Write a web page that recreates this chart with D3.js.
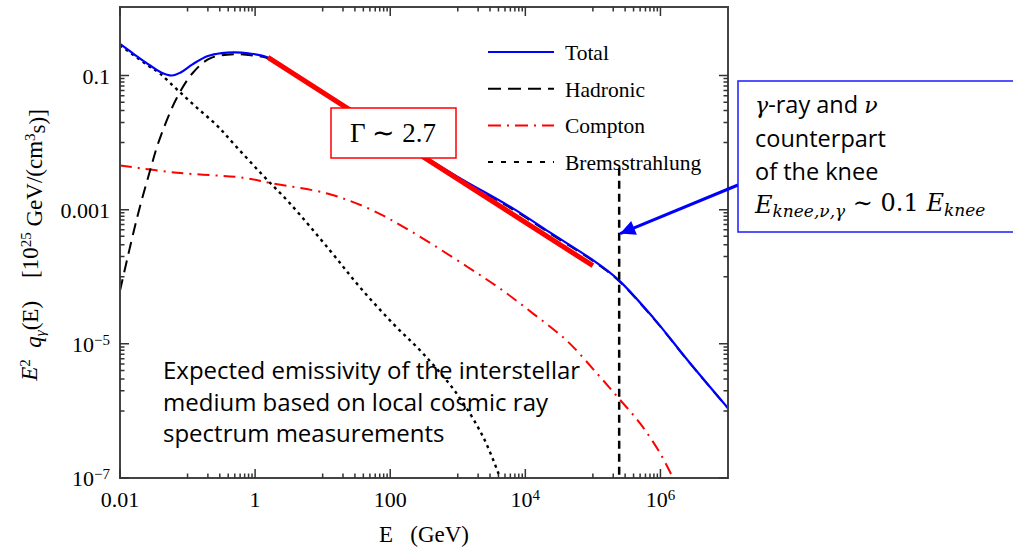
<!DOCTYPE html>
<html>
<head>
<meta charset="utf-8">
<script src="https://cdn.jsdelivr.net/npm/d3@7"></script>
</head>
<body style="margin:0">
<div id="chart"></div>
<script>
// Values: [E (GeV), E^2 q (10^25 GeV/(cm^3 s))]
const totalData = [
  [0.01, 0.295], [0.016, 0.209], [0.028, 0.141], [0.04, 0.112], [0.059, 0.100],
  [0.079, 0.111], [0.12, 0.148], [0.2, 0.195], [0.32, 0.216], [0.5, 0.221],
  [0.79, 0.214], [1.55, 0.186], [4.7, 0.0933], [26, 0.0309], [140, 0.0103],
  [984, 3.11e-3], [6640, 1.035e-3], [2.34e4, 4.54e-4], [1.09e5, 1.67e-4],
  [2.39e5, 9.0e-5], [7.87e5, 2.44e-5], [2.51e6, 5.75e-6], [1e7, 1.1e-6]
];
const hadronicData = [
  [0.01, 6.2e-5], [0.0179, 7.6e-4], [0.0278, 3.8e-3], [0.0379, 0.0107],
  [0.0698, 0.047], [0.121, 0.111], [0.215, 0.18], [0.5, 0.208], [1, 0.197],
  [1.55, 0.18], [4.7, 0.090], [26, 0.0296], [140, 0.0099], [984, 3.0e-3],
  [6640, 1.0e-3], [2.34e4, 4.4e-4], [1.09e5, 1.62e-4], [2.39e5, 8.8e-5],
  [7.87e5, 2.4e-5], [2.51e6, 5.7e-6], [1e7, 1.09e-6]
];
const comptonData = [
  [0.01, 4.57e-3], [0.07, 3.55e-3], [0.66, 3.0e-3], [1.66, 2.5e-3], [11.7, 1.74e-3],
  [50, 1.02e-3], [200, 4.8e-4], [1380, 1.41e-4], [4270, 6.6e-5], [1.32e4, 2.8e-5],
  [4.17e4, 1.1e-5], [1.17e5, 3.55e-6], [2.4e5, 1.55e-6], [5.0e5, 6.5e-7],
  [1e6, 2.3e-7], [1.55e6, 9.8e-8]
];
const bremsData = [
  [0.01, 0.282], [0.026, 0.141], [0.039, 0.107], [0.072, 0.060], [0.138, 0.033],
  [0.275, 0.0178], [0.537, 8.5e-3], [1.32, 3.2e-3], [3.3, 1.23e-3], [12.9, 2.45e-4],
  [36, 6.9e-5], [110, 2.0e-5], [309, 7.1e-6], [977, 1.78e-6], [2400, 4.0e-7],
  [4270, 9.8e-8]
];
// power-law guide (Gamma ~ 2.7)
const slopeData = [[1.55, 0.186], [1.0e5, 1.46e-4]];
// knee marker
const kneeE = 2.45e5;
const kneeTop = 4.2e-3;
const arrowTipValue = 4.4e-4;

const xTickValues = [0.01, 1, 100, 1e4, 1e6];
const xTickLabels = [["0.01", ""], ["1", ""], ["100", ""], ["10", "4"], ["10", "6"]];
const yTickValues = [0.1, 0.001, 1e-5, 1e-7];
const yTickLabels = [["0.1", ""], ["0.001", ""], ["10", "\u22125"], ["10", "\u22127"]];
const minorXDecades = [-1, 1, 3, 5];
const minorYDecades = [-2, -4, -6];

const legendLabels = ["Total", "Hadronic", "Compton", "Bremsstrahlung"];

const width = 1013;
const height = 560;
const plot = { left: 120, right: 728, top: 7, bottom: 478 };

const svg = d3.select("#chart")
    .append("svg")
    .attr("width", width)
    .attr("height", height);

const x = d3.scaleLog().domain([0.01, 1e7]).range([plot.left, plot.right]);
const y = d3.scaleLog().domain([1e-7, 1.05]).range([plot.bottom, plot.top]);

const serif = "'Liberation Serif', 'Times New Roman', serif";
const sans = "'Open Sans', Lato, sans-serif";
const mathSerif = "'DejaVu Serif', serif";

// minor tick positions j * 10^k
function minors(decades) {
    const out = [];
    decades.forEach(k => { for (let j = 1; j <= 9; j++) out.push(j * Math.pow(10, k)); });
    return out;
}

const defs = svg.append("defs");
defs.append("clipPath").attr("id", "plotclip")
    .append("rect")
    .attr("x", plot.left).attr("y", plot.top)
    .attr("width", plot.right - plot.left).attr("height", plot.bottom - plot.top);

// curves
const line = d3.line()
    .x(d => x(d[0]))
    .y(d => y(d[1]))
    .curve(d3.curveCatmullRom.alpha(0.5));

const curves = svg.append("g").attr("clip-path", "url(#plotclip)");

const series = [
    { data: comptonData, color: "#ff0000", dash: "12,6,2,6", width: 2 },
    { data: bremsData, color: "#000", dash: "3,4", width: 2.4 },
    { data: hadronicData, color: "#000", dash: "12,7", width: 2 },
    { data: totalData, color: "#0000ff", dash: null, width: 2.2 }
];
series.forEach(s => {
    curves.append("path")
        .datum(s.data)
        .attr("d", line)
        .attr("fill", "none")
        .attr("stroke", s.color)
        .attr("stroke-width", s.width)
        .attr("stroke-dasharray", s.dash);
});

// Gamma ~ 2.7 slope
curves.append("path")
    .datum(slopeData)
    .attr("d", d3.line().x(d => x(d[0])).y(d => y(d[1])))
    .attr("fill", "none")
    .attr("stroke", "#ff0000")
    .attr("stroke-width", 5);

// knee marker
curves.append("line")
    .attr("x1", x(kneeE)).attr("x2", x(kneeE))
    .attr("y1", y(kneeTop)).attr("y2", plot.bottom)
    .attr("stroke", "#000")
    .attr("stroke-width", 2.5)
    .attr("stroke-dasharray", "8,5");

// frame
svg.append("rect")
    .attr("x", plot.left).attr("y", plot.top)
    .attr("width", plot.right - plot.left).attr("height", plot.bottom - plot.top)
    .attr("fill", "none")
    .attr("stroke", "#444")
    .attr("stroke-width", 2);

// tick labels with superscripts
function addLabel(sel, parts) {
    sel.append("tspan").text(parts[0]);
    if (parts[1]) sel.append("tspan").attr("dy", "-0.45em").style("font-size", "15px").text(parts[1]);
}
xTickValues.forEach((v, i) => {
    const t = svg.append("text")
        .attr("x", x(v)).attr("y", 507)
        .attr("text-anchor", "middle")
        .style("font-family", serif).style("font-size", "22px");
    addLabel(t, xTickLabels[i]);
});
yTickValues.forEach((v, i) => {
    const t = svg.append("text")
        .attr("x", 110).attr("y", y(v) + 8)
        .attr("text-anchor", "end")
        .style("font-family", serif).style("font-size", "22px");
    addLabel(t, yTickLabels[i]);
});

// axis titles
svg.append("text")
    .attr("x", 424).attr("y", 542)
    .attr("text-anchor", "middle")
    .style("font-family", serif).style("font-size", "23px")
    .style("white-space", "pre")
    .text("E   (GeV)");

const yTitle = svg.append("text")
    .attr("transform", "translate(37,245) rotate(-90)")
    .attr("text-anchor", "middle")
    .style("font-family", serif).style("font-size", "23px")
    .style("white-space", "pre");
yTitle.append("tspan").style("font-style", "italic").text("E");
yTitle.append("tspan").attr("dy", "-0.45em").style("font-size", "15px").text("2");
yTitle.append("tspan").attr("dy", "0.45em").text("  ");
yTitle.append("tspan").style("font-style", "italic").text("q");
yTitle.append("tspan").attr("dy", "0.3em").style("font-size", "15px").style("font-style", "italic").text("\u03b3");
yTitle.append("tspan").attr("dy", "-0.3em").text("(E)    [10");
yTitle.append("tspan").attr("dy", "-0.45em").style("font-size", "15px").text("25");
yTitle.append("tspan").attr("dy", "0.45em").text(" GeV/(cm");
yTitle.append("tspan").attr("dy", "-0.45em").style("font-size", "15px").text("3");
yTitle.append("tspan").attr("dy", "0.45em").text("s)]");

// legend
const legendStyles = [
    { color: "#0000ff", dash: null },
    { color: "#000", dash: "13,7" },
    { color: "#ff0000", dash: "13,6,2,6" },
    { color: "#000", dash: "5,8" }
];
legendLabels.forEach((name, i) => {
    const yy = 52 + i * 36.7;
    svg.append("line")
        .attr("x1", 488).attr("x2", 554)
        .attr("y1", yy).attr("y2", yy)
        .attr("stroke", legendStyles[i].color)
        .attr("stroke-width", 2)
        .attr("stroke-dasharray", legendStyles[i].dash);
    svg.append("text")
        .attr("x", 565).attr("y", yy + 8)
        .style("font-family", serif).style("font-size", "21.5px")
        .text(name);
});

// Gamma box
svg.append("rect")
    .attr("x", 331).attr("y", 108)
    .attr("width", 125).attr("height", 50)
    .attr("fill", "#fff")
    .attr("stroke", "#ff0000")
    .attr("stroke-width", 1.5);
svg.append("text")
    .attr("x", 393).attr("y", 142)
    .attr("text-anchor", "middle")
    .style("font-family", serif).style("font-size", "27px")
    .style("white-space", "pre")
    .text("\u0393 \u223c 2.7");

// bottom-left note
const noteLines = ["Expected emissivity of the interstellar", "medium based on local cosmic ray", "spectrum measurements"];
noteLines.forEach((s, i) => {
    svg.append("text")
        .attr("x", 163).attr("y", 379 + i * 31.5)
        .style("font-family", sans).style("font-size", "24px")
        .text(s);
});

// knee annotation box and arrow
defs.append("marker")
    .attr("id", "arrowhead")
    .attr("markerUnits", "userSpaceOnUse")
    .attr("viewBox", "0 0 10 10")
    .attr("refX", 10).attr("refY", 5)
    .attr("markerWidth", 18).attr("markerHeight", 15)
    .attr("orient", "auto")
    .append("path")
    .attr("d", "M0,0 L10,5 L0,10 z")
    .attr("fill", "#0000ff");

svg.append("line")
    .attr("x1", 738).attr("y1", 185)
    .attr("x2", x(kneeE) + 1).attr("y2", y(arrowTipValue))
    .attr("stroke", "#0000ff")
    .attr("stroke-width", 3)
    .attr("marker-end", "url(#arrowhead)");

svg.append("rect")
    .attr("x", 738).attr("y", 81)
    .attr("width", 280).attr("height", 151)
    .attr("fill", "#fff")
    .attr("stroke", "#1a1aff")
    .attr("stroke-width", 1.5);

const boxFont = "23.5px";
const l1 = svg.append("text").attr("x", 755).attr("y", 113)
    .style("font-family", sans).style("font-size", boxFont).style("white-space", "pre");
l1.append("tspan").style("font-family", mathSerif).style("font-style", "italic").style("font-size", "22px").text("\u03b3");
l1.append("tspan").text("-ray and ");
l1.append("tspan").style("font-family", mathSerif).style("font-style", "italic").style("font-size", "22px").text("\u03bd");

svg.append("text").attr("x", 755).attr("y", 147)
    .style("font-family", sans).style("font-size", boxFont).text("counterpart");
svg.append("text").attr("x", 755).attr("y", 180)
    .style("font-family", sans).style("font-size", boxFont).text("of the knee");

const l4 = svg.append("text").attr("x", 755).attr("y", 213)
    .style("font-family", mathSerif).style("font-size", "24px").style("white-space", "pre");
l4.append("tspan").style("font-style", "italic").text("E");
l4.append("tspan").attr("dy", "0.25em").style("font-size", "17px").style("font-style", "italic").text("knee,\u03bd,\u03b3");
l4.append("tspan").attr("dy", "-0.25em").text(" \u223c 0.1 ");
l4.append("tspan").style("font-style", "italic").text("E");
l4.append("tspan").attr("dy", "0.25em").style("font-size", "17px").style("font-style", "italic").text("knee");

// inward ticks on all four sides, drawn last as one path
const tickPath = d3.path();
function xTick(v, len) {
    tickPath.moveTo(x(v), plot.bottom); tickPath.lineTo(x(v), plot.bottom - len);
    tickPath.moveTo(x(v), plot.top); tickPath.lineTo(x(v), plot.top + len);
}
function yTick(v, len) {
    tickPath.moveTo(plot.left, y(v)); tickPath.lineTo(plot.left + len, y(v));
    tickPath.moveTo(plot.right, y(v)); tickPath.lineTo(plot.right - len, y(v));
}
xTickValues.forEach(v => xTick(v, 9));
minors(minorXDecades).forEach(v => xTick(v, 4.5));
yTickValues.forEach(v => yTick(v, 9));
minors(minorYDecades).forEach(v => yTick(v, 4.5));

svg.append("path")
    .attr("d", tickPath.toString())
    .attr("fill", "none")
    .attr("stroke", "#333")
    .attr("stroke-width", 1.5);
</script>
</body>
</html>
